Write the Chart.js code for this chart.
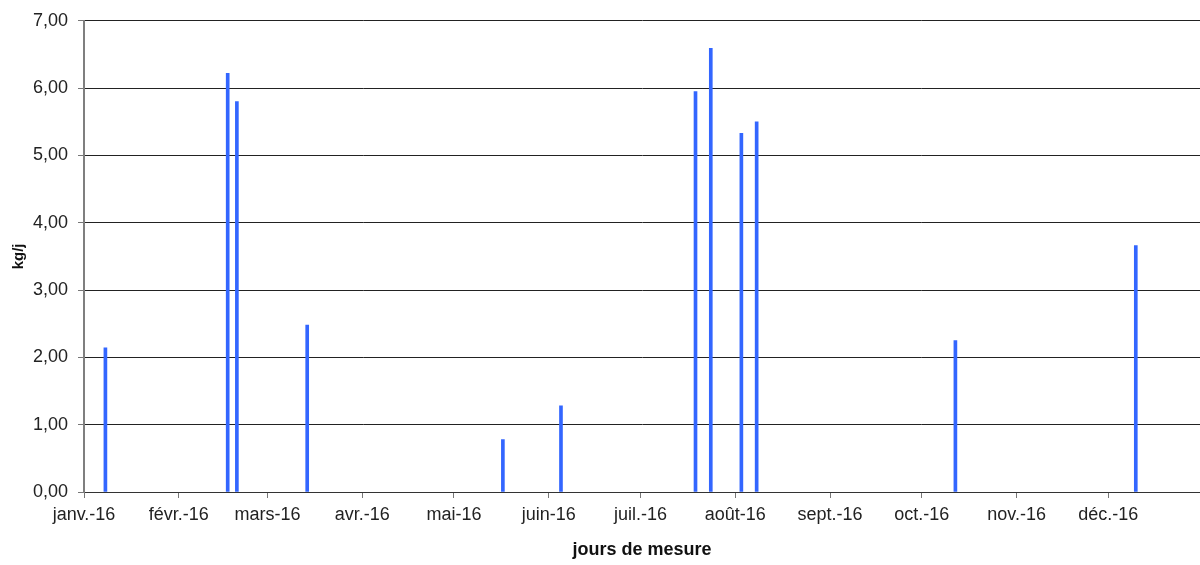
<!DOCTYPE html>
<html>
<head>
<meta charset="utf-8">
<script src="https://cdn.jsdelivr.net/npm/chart.js@4.4.1/dist/chart.umd.min.js"></script>
<style>
  html, body { margin: 0; padding: 0; background: #fff; }
  #wrap { width: 1200px; height: 565px; }
</style>
</head>
<body>
<div id="wrap"><canvas id="mesures"></canvas></div>
<script>
// jours de mesure et valeurs (kg/j)
const dates = ['2016-01-08', '2016-02-17', '2016-02-20', '2016-03-14', '2016-05-17', '2016-06-05',
               '2016-07-19', '2016-07-24', '2016-08-03', '2016-08-08', '2016-10-12', '2016-12-10'];
const valeurs = [2.14, 6.22, 5.80, 2.48, 0.78, 1.28, 5.95, 6.59, 5.33, 5.50, 2.25, 3.66];
const moisDebut = ['2016-01-01', '2016-02-01', '2016-03-01', '2016-04-01', '2016-05-01', '2016-06-01',
                   '2016-07-01', '2016-08-01', '2016-09-01', '2016-10-01', '2016-11-01', '2016-12-01'];
const moisLabels = ['janv.-16', 'févr.-16', 'mars-16', 'avr.-16', 'mai-16', 'juin-16',
                    'juil.-16', 'août-16', 'sept.-16', 'oct.-16', 'nov.-16', 'déc.-16'];

// nombre de jours depuis le 1er janvier 2016
function jour(d) {
    const p = d.split('-').map(Number);
    return (Date.UTC(p[0], p[1] - 1, p[2]) - Date.UTC(2016, 0, 1)) / 86400000;
}

const moisJours = moisDebut.map(jour);
const points = dates.map((d, i) => ({ x: jour(d), y: valeurs[i] }));

const police = "'Liberation Sans', Arial, sans-serif";

new Chart(document.getElementById('mesures'), {
    type: 'bar',
    data: {
        datasets: [{
            data: points,
            backgroundColor: '#3366ff',
            borderWidth: 0,
            barThickness: 3
        }]
    },
    options: {
        responsive: true,
        maintainAspectRatio: false,
        animation: false,
        layout: { padding: { left: 0, right: 0, top: 19, bottom: 0 } },
        scales: {
            x: {
                type: 'linear',
                offset: false,
                min: 0,
                max: jour('2016-12-31'),
                afterBuildTicks: function(scale) {
                    scale.ticks = moisJours.map(v => ({ value: v }));
                },
                afterFit: function(scale) { scale.height = 73; },
                ticks: {
                    autoSkip: false,
                    maxRotation: 0,
                    padding: 6,
                    color: '#222',
                    font: { size: 18, family: police },
                    callback: function(value) {
                        const i = moisJours.indexOf(value);
                        return i >= 0 ? moisLabels[i] : '';
                    }
                },
                grid: {
                    offset: false,
                    drawOnChartArea: false,
                    tickLength: 6,
                    tickColor: '#777'
                },
                border: { color: '#333', width: 1 },
                title: {
                    display: true,
                    text: 'jours de mesure',
                    color: '#111',
                    font: { size: 18, weight: 'bold', family: police },
                    padding: { top: 0, bottom: 4 }
                }
            },
            y: {
                min: 0,
                max: 7,
                afterFit: function(scale) { scale.width = 84; },
                ticks: {
                    stepSize: 1,
                    padding: 10,
                    color: '#222',
                    font: { size: 18, family: police },
                    callback: function(value) {
                        return value.toFixed(2).replace('.', ',');
                    }
                },
                grid: {
                    color: '#222',
                    lineWidth: 1,
                    tickLength: 6,
                    tickColor: '#777'
                },
                border: { color: '#7f7f7f', width: 2 },
                title: {
                    display: true,
                    text: 'kg/j',
                    color: '#111',
                    font: { size: 15, weight: 'bold', family: police },
                    padding: { top: 10, bottom: 0 }
                }
            }
        },
        plugins: {
            legend: { display: false },
            tooltip: { enabled: false }
        }
    }
});
</script>
</body>
</html>
